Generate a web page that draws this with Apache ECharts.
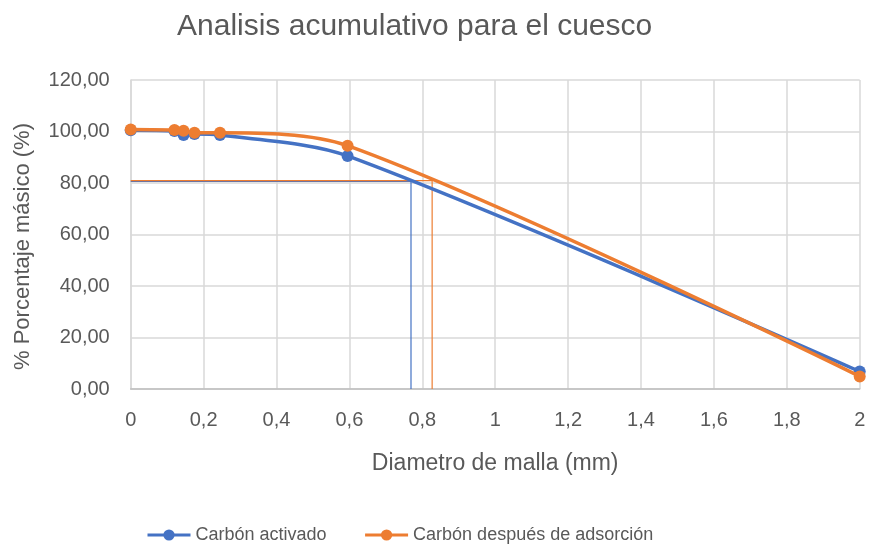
<!DOCTYPE html>
<html>
<head>
<meta charset="utf-8">
<script src="https://cdn.jsdelivr.net/npm/echarts@6/dist/echarts.min.js"></script>
<style>
  html, body { margin: 0; padding: 0; background: #fff; }
  #chart { width: 871px; height: 553px; }
</style>
</head>
<body>
<div id="chart"></div>
<script>
// Sieve opening (mm) and cumulative passing mass percentage
const diametros = [0, 0.12, 0.145, 0.175, 0.245, 0.595, 2];
const activado = [100.5, 100.2, 98.6, 99.0, 98.6, 90.5, 6.8];
const adsorcion = [100.8, 100.6, 100.3, 99.5, 99.5, 94.5, 4.9];

// D80 guide lines (passing 80 %)
const d80Activado = 0.769;
const d80Adsorcion = 0.827;
const nivel80 = 80.6;

const xTicks = { min: 0, max: 2, interval: 0.2 };
const yTicks = { min: 0, max: 120, interval: 20 };

const azul = '#4472C4';
const naranja = '#ED7D31';
const gris = '#595959';
const fuente = 'Liberation Sans';

const pares = (xs, ys) => xs.map((x, i) => [x, ys[i]]);
const coma = v => String(v).replace('.', ',');

const chart = echarts.init(document.getElementById('chart'));
chart.setOption({
  animation: false,
  title: {
    text: 'Analisis acumulativo para el cuesco',
    left: 172,
    top: 7,
    textStyle: { color: gris, fontSize: 30, fontWeight: 'normal', fontFamily: fuente }
  },
  grid: { left: 130.7, right: 11.3, top: 80, bottom: 164 },
  legend: {
    data: ['Carbón activado', 'Carbón después de adsorción'],
    bottom: 4,
    left: 141,
    itemWidth: 43,
    itemHeight: 14,
    itemGap: 37,
    itemStyle: {},
    lineStyle: { width: 3 },
    textStyle: { color: gris, fontSize: 18, fontFamily: fuente }
  },
  xAxis: {
    type: 'value',
    min: xTicks.min, max: xTicks.max, interval: xTicks.interval,
    name: 'Diametro de malla (mm)',
    nameLocation: 'middle',
    nameGap: 63,
    nameTextStyle: { color: gris, fontSize: 23, fontFamily: fuente },
    axisLine: { lineStyle: { color: '#bfbfbf', width: 1.5 } },
    axisTick: { show: false },
    axisLabel: { color: gris, fontSize: 20, fontFamily: fuente, margin: 21, formatter: v => coma(Math.round(v * 10) / 10) },
    splitLine: { show: true, lineStyle: { color: '#d9d9d9', width: 1.5 } }
  },
  yAxis: {
    type: 'value',
    min: yTicks.min, max: yTicks.max, interval: yTicks.interval,
    name: '% Porcentaje másico (%)',
    nameLocation: 'middle',
    nameGap: 97,
    nameTextStyle: { color: gris, fontSize: 22, fontFamily: fuente, padding: [0, 24, 0, 0] },
    axisLine: { show: true, lineStyle: { color: '#d9d9d9', width: 1.5 } },
    axisTick: { show: false },
    axisLabel: { color: gris, fontSize: 20, fontFamily: fuente, margin: 21, formatter: v => v.toFixed(2).replace('.', ',') },
    splitLine: { show: true, lineStyle: { color: '#d9d9d9', width: 1.5 } }
  },
  series: [
    {
      name: 'guía activado',
      type: 'line',
      data: [[0, nivel80], [d80Activado, nivel80], [d80Activado, 0]],
      showSymbol: false, symbol: 'none',
      lineStyle: { color: azul, width: 1.2 },
      silent: true, z: 1
    },
    {
      name: 'guía adsorción',
      type: 'line',
      data: [[0, nivel80 + 0.3], [d80Adsorcion, nivel80 + 0.3], [d80Adsorcion, 0]],
      showSymbol: false, symbol: 'none',
      lineStyle: { color: naranja, width: 1.2 },
      silent: true, z: 1
    },
    {
      name: 'Carbón activado',
      type: 'line',
      data: pares(diametros, activado),
      smooth: 0.3,
      symbol: 'circle', symbolSize: 12,
      itemStyle: { color: azul },
      lineStyle: { color: azul, width: 3.5 },
      z: 3
    },
    {
      name: 'Carbón después de adsorción',
      type: 'line',
      data: pares(diametros, adsorcion),
      smooth: 0.3,
      symbol: 'circle', symbolSize: 12,
      itemStyle: { color: naranja },
      lineStyle: { color: naranja, width: 3.5 },
      z: 4
    }
  ]
});
</script>
</body>
</html>
